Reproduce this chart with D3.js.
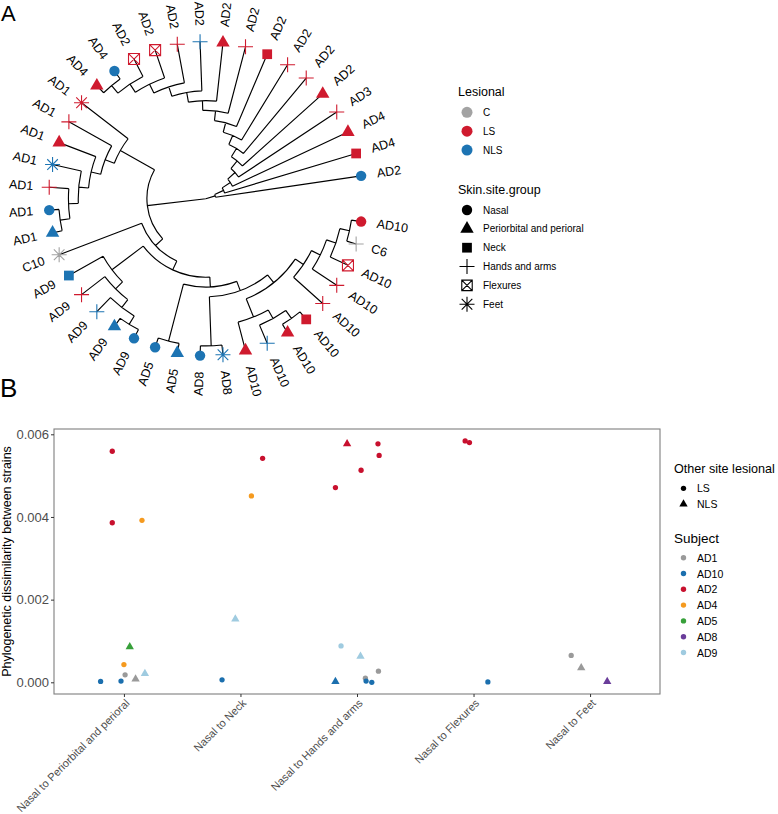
<!DOCTYPE html>
<html lang="en">
<head>
<meta charset="UTF-8">
<title>Phylogeny and dissimilarity</title>
<script src="https://d3js.org/d3.v7.min.js"></script>
<style>
  html, body { margin: 0; padding: 0; background: #fff; }
  svg { display: block; font-family: "Liberation Sans", Arial, Helvetica, sans-serif; }
</style>
</head>
<body>
<svg id="canvas" width="778" height="814"></svg>
<script>
// ---------- panel A data: tips in order round the fan (counter-clockwise from the right) ----------
const tipSubject = ['AD2','AD4','AD4','AD3','AD2','AD2','AD2','AD2','AD2','AD2','AD2','AD2','AD2','AD2','AD4','AD4',
  'AD1','AD1','AD1','AD1','AD1','AD1','AD1','C10','AD9','AD9','AD9','AD9','AD9','AD5','AD5','AD8','AD8',
  'AD10','AD10','AD10','AD10','AD10','AD10','AD10','C6','AD10'];
const tipLesional = ['NLS','LS','LS','LS','LS','LS','LS','LS','LS','LS','NLS','LS','LS','LS','NLS','LS',
  'LS','LS','LS','NLS','LS','NLS','NLS','C','NLS','LS','NLS','NLS','NLS','NLS','NLS','NLS','NLS',
  'LS','NLS','LS','LS','LS','LS','LS','C','LS'];
const tipSite = ['Nasal','Neck','Periorbital and perioral','Hands and arms','Periorbital and perioral','Hands and arms',
  'Hands and arms','Neck','Hands and arms','Periorbital and perioral','Hands and arms','Hands and arms','Flexures','Flexures',
  'Nasal','Periorbital and perioral','Feet','Hands and arms','Periorbital and perioral','Feet','Hands and arms','Nasal',
  'Periorbital and perioral','Feet','Neck','Hands and arms','Hands and arms','Periorbital and perioral','Nasal','Nasal',
  'Periorbital and perioral','Nasal','Feet','Periorbital and perioral','Hands and arms','Periorbital and perioral','Neck',
  'Hands and arms','Hands and arms','Flexures','Hands and arms','Nasal'];
// topology, leaves are tip numbers (1-based)
const treeTopology = [
  [1,[2,[3,[4,[5,[6,[7,[8,[9,[10,[11,[12,[13,[14,[15,16]]]]]]]]]]]]]]],
  [
    [17,[18,[19,[20,[21,[22,23]]]]]],
    [24,[
      [25,[26,[27,[28,29]]]],
      [[30,31],[[32,33],[[34,[35,[36,37]]],[38,[39,[40,[41,42]]]]]]]
    ]]
  ]
];
const lesionalLevels = ['C','LS','NLS'];
const lesionalColors = ['#a3a3a3','#cf1a2e','#1d74b3'];
const siteLevels = ['Nasal','Periorbital and perioral','Neck','Hands and arms','Flexures','Feet'];

// ---------- panel B data ----------
const bCategories = ['Nasal to Periorbital and perioral','Nasal to Neck','Nasal to Hands and arms','Nasal to Flexures','Nasal to Feet'];
const bCategory = [0,0,0,0,0,0,0,0,0,0, 1,1,1,1, 2,2,2,2,2,2,2,2,2,2,2,2, 3,3,3, 4,4,4];
const bValue = [0.00559,0.00386,0.00392,0.00086,0.00043,0.00018,0.00008,0.00021,0.00002,0.00003,
  0.00542,0.00451,0.00153,0.00006,
  0.00577,0.00577,0.00549,0.00513,0.00471,0.00088,0.00063,0.00027,0.00010,0.00002,0.00003,0.00000,
  0.00584,0.00580,0.00001,
  0.00065,0.00035,0.00002];
const bSubject = ['AD2','AD2','AD4','AD5','AD4','AD1','AD1','AD9','AD10','AD10',
  'AD2','AD4','AD9','AD10',
  'AD2','AD2','AD2','AD2','AD2','AD9','AD9','AD1','AD1','AD10','AD10','AD10',
  'AD2','AD2','AD10',
  'AD1','AD1','AD8'];
const bOtherLesional = ['LS','LS','LS','NLS','LS','LS','NLS','NLS','LS','LS',
  'LS','LS','NLS','LS',
  'NLS','LS','LS','LS','LS','LS','NLS','LS','LS','NLS','LS','LS',
  'LS','LS','LS',
  'LS','NLS','NLS'];
const bJitter = [-0.10,-0.10,0.155,0.05,0.0,0.01,0.10,0.18,-0.20,-0.025,
  0.19,0.094,-0.044,-0.158,
  -0.085,0.18,0.19,0.035,-0.185,-0.137,0.03,0.184,0.072,-0.185,0.078,0.127,
  -0.072,-0.035,0.123,
  -0.162,-0.076,0.147];
const subjectLevels = ['AD1','AD10','AD2','AD4','AD5','AD8','AD9'];
const subjectColors = ['#9a9a9a','#1b6fae','#c8102e','#f59a1f','#37a03a','#6a3d9a','#9fcbe0'];
const yTicks = [0, 0.002, 0.004, 0.006];

const svg = d3.select('#canvas');
const font = '"Liberation Sans", Arial, Helvetica, sans-serif';

// shape helper (ggplot-like point shapes)
const shapePath = (site, k) => {
  const s = k || 1;
  if (site === 'Nasal') return d3.symbol(d3.symbolCircle, 85 * s * s)();
  if (site === 'Periorbital and perioral') return d3.symbol(d3.symbolTriangle, 78 * s * s)();
  if (site === 'Neck') return d3.symbol(d3.symbolSquare, 95 * s * s)();
  const p = d3.path();
  const plus = a => { p.moveTo(-a, 0); p.lineTo(a, 0); p.moveTo(0, -a); p.lineTo(0, a); };
  const times = a => { p.moveTo(-a, -a); p.lineTo(a, a); p.moveTo(-a, a); p.lineTo(a, -a); };
  if (site === 'Hands and arms') plus(7.5 * s);
  if (site === 'Flexures') { p.rect(-5.5 * s, -5.5 * s, 11 * s, 11 * s); times(5.5 * s); }
  if (site === 'Feet') { plus(7.5 * s); times(5.3 * s); }
  return p.toString();
};
const isFilled = site => ['Nasal','Periorbital and perioral','Neck'].includes(site);

// ================= PANEL A =================
svg.append('text').attr('x', 1).attr('y', 21).attr('font-size', 22).attr('font-family', font).text('A');

const cx = 205.8, cy = 198.7;
const root = d3.hierarchy(treeTopology, d => Array.isArray(d) ? d : null);
// cladogram depth like ggtree branch.length = "none": parent = min(children) - 1
root.eachAfter(n => { n.cl = n.children ? d3.min(n.children, c => c.cl) - 1 : 0; });
const maxDepth = -root.cl;
root.each(n => { n.depthX = n.cl - root.cl; });

const rScale = d3.scaleLinear().domain([0, maxDepth]).range([0, 157]);
const aScale = d3.scaleLinear().domain([0, tipSubject.length + 1]).range([0, -2 * Math.PI]);
root.eachAfter(n => { n.angle = n.children ? d3.mean(n.children, c => c.angle) : aScale(n.data); });

const treePath = d3.path();
root.descendants().forEach(n => {
  const r = rScale(n.depthX);
  if (n.parent) {
    const r0 = rScale(n.parent.depthX);
    treePath.moveTo(cx + r0 * Math.cos(n.angle), cy + r0 * Math.sin(n.angle));
    treePath.lineTo(cx + r * Math.cos(n.angle), cy + r * Math.sin(n.angle));
  }
  if (n.children && r > 0) {
    const a0 = d3.min(n.children, c => c.angle), a1 = d3.max(n.children, c => c.angle);
    treePath.moveTo(cx + r * Math.cos(a0), cy + r * Math.sin(a0));
    treePath.arc(cx, cy, r, a0, a1, false);
  }
});
svg.append('path').attr('d', treePath.toString()).attr('fill', 'none')
  .attr('stroke', '#000').attr('stroke-width', 1.15);

const lesColor = d3.scaleOrdinal().domain(lesionalLevels).range(lesionalColors);
const leaves = root.leaves();
const tipG = svg.append('g');
leaves.forEach(n => {
  const i = n.data - 1;
  const R = rScale(n.depthX);
  const x = cx + R * Math.cos(n.angle), y = cy + R * Math.sin(n.angle);
  const col = lesColor(tipLesional[i]);
  const filled = isFilled(tipSite[i]);
  tipG.append('path').attr('d', shapePath(tipSite[i]))
    .attr('transform', `translate(${x},${y})`)
    .attr('fill', filled ? col : 'none')
    .attr('stroke', filled ? 'none' : col)
    .attr('stroke-width', 1.1);
  // label
  const rl = R + 16;
  const lx = cx + rl * Math.cos(n.angle), ly = cy + rl * Math.sin(n.angle);
  const deg = n.angle * 180 / Math.PI;
  const right = Math.cos(n.angle) >= 0;
  tipG.append('text')
    .attr('transform', `translate(${lx},${ly}) rotate(${right ? deg : deg + 180})`)
    .attr('text-anchor', right ? 'start' : 'end')
    .attr('dominant-baseline', 'central')
    .attr('font-size', 12.5).attr('font-family', font)
    .text(tipSubject[i]);
});

// legend A
const legA = svg.append('g').attr('font-family', font);
legA.append('text').attr('x', 458).attr('y', 95.5).attr('font-size', 12.5).text('Lesional');
lesionalLevels.forEach((lv, k) => {
  const y = 112.3 + k * 18.9;
  legA.append('circle').attr('cx', 467).attr('cy', y).attr('r', 5.5).attr('fill', lesionalColors[k]);
  legA.append('text').attr('x', 483).attr('y', y).attr('dominant-baseline', 'central')
    .attr('font-size', 10).text(lv);
});
legA.append('text').attr('x', 458).attr('y', 193.5).attr('font-size', 12.5).text('Skin.site.group');
siteLevels.forEach((lv, k) => {
  const y = 210 + k * 18.85;
  const filled = isFilled(lv);
  legA.append('path').attr('d', shapePath(lv, lv === 'Flexures' ? 0.95 : 1))
    .attr('transform', `translate(467,${y})`)
    .attr('fill', filled ? '#000' : 'none').attr('stroke', filled ? 'none' : '#000').attr('stroke-width', 1.1);
  legA.append('text').attr('x', 483).attr('y', y).attr('dominant-baseline', 'central')
    .attr('font-size', 10).text(lv);
});

// ================= PANEL B =================
svg.append('text').attr('x', 0).attr('y', 397).attr('font-size', 26).attr('font-family', font).text('B');

const pL = 54, pR = 660, pT = 429, pB = 694;
const xScale = d3.scalePoint().domain(bCategories).range([pL, pR]).padding(0.6);
const yScale = d3.scaleLinear().domain([0, 0.006]).range([682.3, 434.3]);
const subjColor = d3.scaleOrdinal().domain(subjectLevels).range(subjectColors);

svg.append('rect').attr('x', pL).attr('y', pT).attr('width', pR - pL).attr('height', pB - pT)
  .attr('fill', 'none').attr('stroke', '#7f7f7f').attr('stroke-width', 1.1);

const yAxis = svg.append('g').attr('transform', `translate(${pL},0)`)
  .call(d3.axisLeft(yScale).tickValues(yTicks).tickFormat(d3.format('.3f')).tickSize(3).tickPadding(2));
yAxis.select('.domain').remove();
yAxis.selectAll('line').attr('stroke', '#333');
yAxis.selectAll('text').attr('font-size', 13).attr('font-family', font).attr('fill', '#4d4d4d');

const xAxis = svg.append('g').attr('transform', `translate(0,${pB})`)
  .call(d3.axisBottom(xScale).tickSize(3));
xAxis.select('.domain').remove();
xAxis.selectAll('line').attr('stroke', '#333');
xAxis.selectAll('text')
  .attr('font-size', 11).attr('font-family', font).attr('fill', '#4d4d4d')
  .attr('text-anchor', 'end').attr('dy', null).attr('y', null)
  .attr('transform', 'translate(3,7) rotate(-45)')
  .attr('dominant-baseline', 'central');

svg.append('text')
  .attr('transform', `translate(11,${(pT + pB) / 2}) rotate(-90)`)
  .attr('text-anchor', 'middle').attr('font-size', 12.5).attr('font-family', font)
  .text('Phylogenetic dissimilarity between strains');

const pts = svg.append('g');
bValue.forEach((v, i) => {
  const x = xScale(bCategories[bCategory[i]]) + bJitter[i] * xScale.step();
  const y = yScale(v);
  const sym = bOtherLesional[i] === 'LS' ? d3.symbol(d3.symbolCircle, 22) : d3.symbol(d3.symbolTriangle, 30);
  pts.append('path').attr('d', sym()).attr('transform', `translate(${x},${y})`)
    .attr('fill', subjColor(bSubject[i]));
});

// legend B
const legB = svg.append('g').attr('font-family', font);
legB.append('text').attr('x', 674).attr('y', 473).attr('font-size', 12.6).text('Other site lesional');
['LS','NLS'].forEach((lv, k) => {
  const y = 488.3 + k * 15.8;
  const sym = lv === 'LS' ? d3.symbol(d3.symbolCircle, 22) : d3.symbol(d3.symbolTriangle, 30);
  legB.append('path').attr('d', sym()).attr('transform', `translate(683.5,${y})`).attr('fill', '#000');
  legB.append('text').attr('x', 697).attr('y', y).attr('dominant-baseline', 'central')
    .attr('font-size', 10.5).text(lv);
});
legB.append('text').attr('x', 674).attr('y', 543).attr('font-size', 13.5).text('Subject');
subjectLevels.forEach((lv, k) => {
  const y = 557.7 + k * 15.8;
  legB.append('circle').attr('cx', 683.5).attr('cy', y).attr('r', 2.7).attr('fill', subjectColors[k]);
  legB.append('text').attr('x', 697).attr('y', y).attr('dominant-baseline', 'central')
    .attr('font-size', 10.5).text(lv);
});
</script>
</body>
</html>
